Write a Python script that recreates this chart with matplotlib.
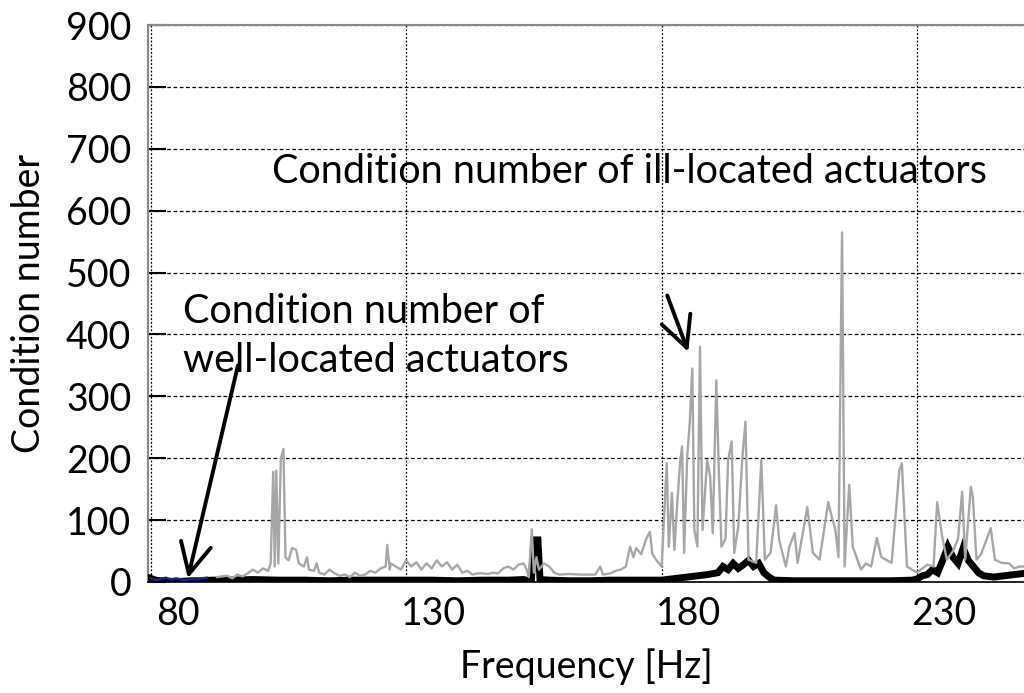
import matplotlib
matplotlib.use("Agg")
import matplotlib.pyplot as plt
from matplotlib.transforms import ScaledTranslation

plt.rcParams['font.family'] = ['Lato', 'DejaVu Sans']

# condition number, ill-located actuators (grey trace)
ill_freq = [93, 95, 96, 97, 98, 99, 100, 101, 102, 103, 103.5, 104, 104.3, 104.6, 105,
            105.5, 106, 106.4, 107, 107.7, 108.5, 109, 110, 110.6, 111, 112, 112.5, 113,
            114, 115, 116, 117, 118, 119, 120, 121, 122, 123, 124, 125, 126, 126.3, 126.8,
            127, 128, 129, 130, 131, 132, 133, 134, 135, 136, 137, 138, 139, 140, 141, 142,
            143, 144, 145, 146, 147, 148, 149, 150, 151, 152, 153, 153.6, 154, 154.6, 155,
            155.5, 156, 157, 158, 159, 160, 162, 164, 166, 167, 168, 168.5, 170, 171, 172,
            173, 173.8, 174.5, 175, 176, 177, 177.7, 178.2, 179, 180, 181, 181.4, 182, 182.5,
            183, 183.6, 184, 184.4, 185, 185.5, 186, 186.4, 187, 187.5, 188, 188.9, 189.5,
            190, 190.7, 191.2, 191.7, 192.5, 193, 193.7, 194.2, 195, 195.8, 196.4, 197,
            198.5, 199.5, 200.2, 201.3, 202.4, 203, 204.3, 205, 206, 206.6, 208.5, 209.6,
            210.9, 212.6, 213.3, 214, 214.6, 215.3, 215.8, 216.7, 217.4, 219, 220, 221,
            222.1, 223, 225, 226.5, 227, 228, 230, 231, 232, 233.2, 233.9, 234.9, 235.8,
            237, 238, 238.8, 239.4, 240.5, 240.9, 241.6, 242.5, 244.4, 245.2, 246.5, 248,
            249, 250, 251]
ill_cond = [8, 10, 6, 12, 9, 14, 20, 15, 22, 18, 30, 178, 25, 180, 30,
            200, 215, 40, 35, 55, 52, 30, 25, 40, 20, 18, 30, 15,
            12, 20, 14, 10, 12, 8, 15, 10, 12, 18, 15, 22, 25, 60, 20,
            30, 25, 20, 35, 25, 32, 20, 30, 22, 35, 25, 32, 20, 28, 15, 18,
            12, 14, 14, 13, 15, 14, 22, 25, 20, 28, 30, 20, 8, 85, 15,
            40, 20, 30, 25, 15, 12, 13, 12, 12, 12, 25, 12, 14, 18, 20,
            25, 57, 40, 55, 45, 70, 81, 45, 35, 25, 192, 57, 144, 52,
            120, 192, 219, 47, 202, 257, 345, 84, 57, 380, 84, 197, 170,
            79, 326, 176, 57, 70, 197, 227, 47, 90, 202, 259, 36,
            31, 197, 36, 47, 124, 68, 25, 57, 79, 31, 121, 47,
            36, 129, 105, 84, 40, 565, 25, 157, 57, 20, 30, 25,
            71, 40, 31, 180, 192, 25, 15, 22, 28, 25, 129, 73, 36,
            50, 70, 146, 36, 154, 137, 36, 45, 87, 36, 31, 30,
            22, 25, 25]

# condition number, well-located actuators (black trace)
well_freq = [80, 81, 82, 84, 86, 88, 90, 92, 95, 100, 105, 110, 115, 120, 125, 130,
             135, 140, 145, 150, 153, 154.5, 155, 155.8, 156.2, 158, 162, 166, 170, 175,
             180, 181, 183, 185, 187, 189, 191, 192, 193, 194, 195, 196, 197, 198, 199,
             200, 201, 202, 206, 210, 215, 220, 225, 229, 230, 231, 232, 233, 234, 235,
             236, 237, 238, 239, 240, 241, 242, 243, 245, 247, 249, 251]
well_cond = [6, 3, 2, 1, 1, 2, 2, 3, 3, 4, 3, 3, 2, 3, 3, 3,
             3, 2, 3, 3, 4, 1, 68, 68, 4, 3, 2, 2, 3, 3,
             3, 4, 6, 8, 10, 12, 15, 25, 20, 30, 22, 28, 35, 25, 30,
             15, 8, 3, 2, 2, 2, 2, 2, 3, 5, 10, 12, 20, 15, 35,
             57, 40, 30, 55, 35, 25, 15, 10, 8, 10, 12, 14]

# low-frequency part shown in blue
blue_freq = [80, 81, 82, 83, 84, 85, 86, 87, 88, 89, 90, 91]
blue_cond = [6, 3, 5, 7, 4, 6, 4, 3, 5, 4, 6, 7]

x_ticks = [80, 130, 180, 230]
y_ticks = [0, 100, 200, 300, 400, 500, 600, 700, 800, 900]

fig = plt.figure(figsize=(10.24, 6.93), dpi=100)
ax = fig.add_axes([148 / 1024, 1 - 582 / 693, 1 - 148 / 1024, (582 - 25) / 693])

ax.plot(well_freq, well_cond, color='black', lw=5, solid_joinstyle='miter', zorder=3)
ax.plot(ill_freq, ill_cond, color='#a6a6a6', lw=1.7, zorder=4)
ax.plot(blue_freq, blue_cond, color='#1f1f8f', lw=1.7, zorder=5)

ax.set_xlim(79.5, 250.9)
ax.set_ylim(0, 900)
ax.set_xticks(x_ticks)
ax.set_yticks(y_ticks)

ax.grid(axis='y', color='black', linestyle=(0, (3, 2)), lw=0.9)
ax.grid(axis='x', color='black', linestyle=(0, (1.5, 1.5)), lw=0.9)
ax.set_axisbelow(True)

for s in ['left', 'top']:
    ax.spines[s].set_color('#888888')
    ax.spines[s].set_linewidth(1.5)
ax.spines['right'].set_visible(False)
ax.spines['bottom'].set_color('black')
ax.spines['bottom'].set_linewidth(1.2)

ax.tick_params(axis='y', direction='in', length=13, width=1.5, color='black',
               labelsize=27, pad=12)
ax.tick_params(axis='x', length=0, labelsize=27, pad=10)

# labels sit to the right of their gridlines
shift = ScaledTranslation(0.27, 0, fig.dpi_scale_trans)
for lbl in ax.get_xticklabels():
    lbl.set_transform(lbl.get_transform() + shift)

ax.set_xlabel('Frequency [Hz]', fontsize=27, labelpad=12)
ax.set_ylabel('Condition number', fontsize=27, labelpad=14)

ax.text(103.8, 645, 'Condition number of ill-located actuators', fontsize=28.5,
        va='baseline', ha='left', zorder=6)
ax.text(86.4, 418, 'Condition number of', fontsize=28.5, va='baseline', ha='left', zorder=6)
ax.text(86.4, 339, 'well-located actuators', fontsize=28.5, va='baseline', ha='left', zorder=6)

arrow = dict(arrowstyle='->', lw=2.8, color='black', mutation_scale=55, shrinkA=0, shrinkB=0)
ax.annotate('', xy=(185.2, 372), xytext=(181.1, 463), arrowprops=arrow, zorder=6)
ax.annotate('', xy=(87.3, 6), xytext=(97.1, 350), arrowprops=arrow, zorder=6)

fig.savefig('out.png', dpi=100)
